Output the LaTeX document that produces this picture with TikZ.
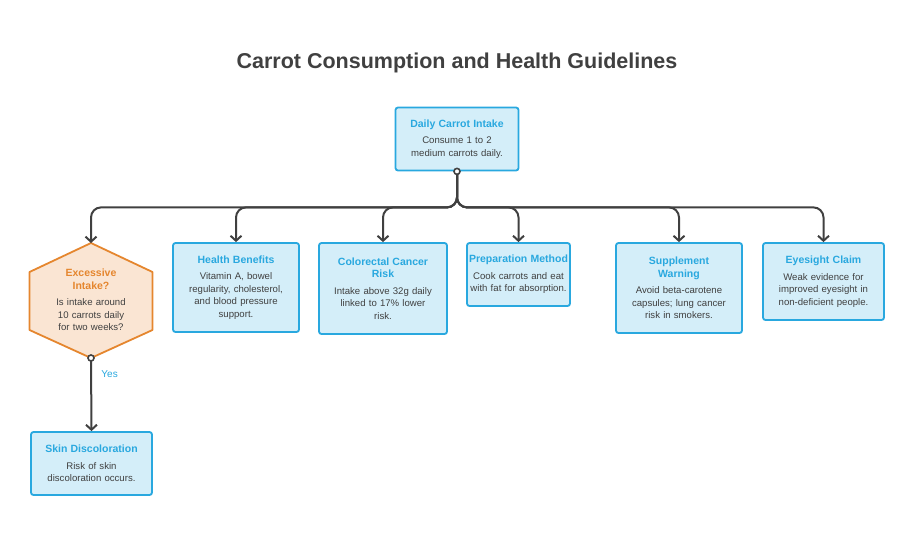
\documentclass[tikz,border=0pt]{standalone}
\usepackage{fontspec}
\setmainfont{Liberation Sans}
\usetikzlibrary{arrows.meta, positioning}
\definecolor{boxfill}{HTML}{D4EEF9}
\definecolor{boxline}{HTML}{29A8DF}
\definecolor{hexfill}{HTML}{FAE5D3}
\definecolor{hexline}{HTML}{E5862E}
\definecolor{ink}{HTML}{404040}
\newcommand{\boxtext}[2]{{\fontsize{10.5}{13.5}\selectfont\bfseries\color{boxline}#1}\\[4pt]{\fontsize{9.6}{12.5}\selectfont\color{ink}#2}}
\begin{document}
\begin{tikzpicture}[x=1pt,y=-1pt,
  info box/.style={draw=boxline,fill=boxfill,line width=1.8pt,rounded corners=2.5pt,
    align=center,inner sep=2pt,font=\fontsize{9.6}{12.5}\selectfont},
  link/.style={draw=ink,line width=2pt,rounded corners=10pt,-{Straight Barb[length=5pt,width=11pt]}}]
  \useasboundingbox (0,0) rectangle (914,550);
  \node[font=\fontsize{21.5}{26}\selectfont\bfseries,text=ink] (title) at (457,63) {Carrot Consumption and Health Guidelines};
  \node[info box,minimum width=123pt,minimum height=63pt,text width=119pt] (daily) at (457,139)
    {\boxtext{Daily Carrot Intake}{Consume 1 to 2\\medium carrots daily.}};
  \node[info box,minimum width=126pt,minimum height=89pt,text width=122pt] (health) at (236,287.5)
    {\boxtext{Health Benefits}{Vitamin A, bowel\\regularity, cholesterol,\\and blood pressure\\support.}};
  \node[info box,minimum width=128pt,minimum height=91pt,text width=124pt] (colo) at (383,288.5)
    {\boxtext{Colorectal Cancer\\Risk}{Intake above 32g daily\\linked to 17\% lower\\risk.}};
  \node[info box,minimum width=103pt,minimum height=63pt,text width=102pt,inner sep=0.5pt] (prep) at (518.5,274.5)
    {\boxtext{Preparation Method}{Cook carrots and eat\\with fat for absorption.}};
  \node[info box,minimum width=126pt,minimum height=90pt,text width=122pt] (supp) at (679,288)
    {\boxtext{Supplement\\Warning}{Avoid beta-carotene\\capsules; lung cancer\\risk in smokers.}};
  \node[info box,minimum width=121pt,minimum height=77pt,text width=117pt] (eye) at (823.5,281.5)
    {\boxtext{Eyesight Claim}{Weak evidence for\\improved eyesight in\\non-deficient people.}};
  \node[info box,minimum width=121pt,minimum height=63pt,text width=117pt] (skin) at (91.5,463.5)
    {\boxtext{Skin Discoloration}{Risk of skin\\discoloration occurs.}};
  % decision hexagon
  \draw[draw=hexline,fill=hexfill,line width=1.8pt,line join=round]
    (91,243) -- (152.5,272) -- (152.5,330) -- (91,358) -- (29.5,330) -- (29.5,272) -- cycle;
  \coordinate (hextop) at (91,243);
  \coordinate (hexbot) at (91,358);
  \node[align=center,font=\fontsize{9.6}{12.5}\selectfont,text width=100pt] (excess) at (91,300)
    {{\fontsize{10.5}{13.5}\selectfont\bfseries\color{hexline}Excessive\\Intake?}\\[4pt]{\color{ink}Is intake around\\10 carrots daily\\for two weeks?}};
  % connectors
  \foreach \target in {hextop,health,colo,prep,supp,eye}
    \draw[link] (daily.south) -- ++(0,36) -| (\target.north);
  \draw[link] (hexbot) -- (skin.north) node[pos=0.22,right=6pt,text=boxline,font=\fontsize{10}{12}\selectfont] {Yes};
  \foreach \dot in {daily.south,hexbot}
    \draw[draw=ink,fill=white,line width=1.6pt] (\dot) circle (3pt);
\end{tikzpicture}
\end{document}
